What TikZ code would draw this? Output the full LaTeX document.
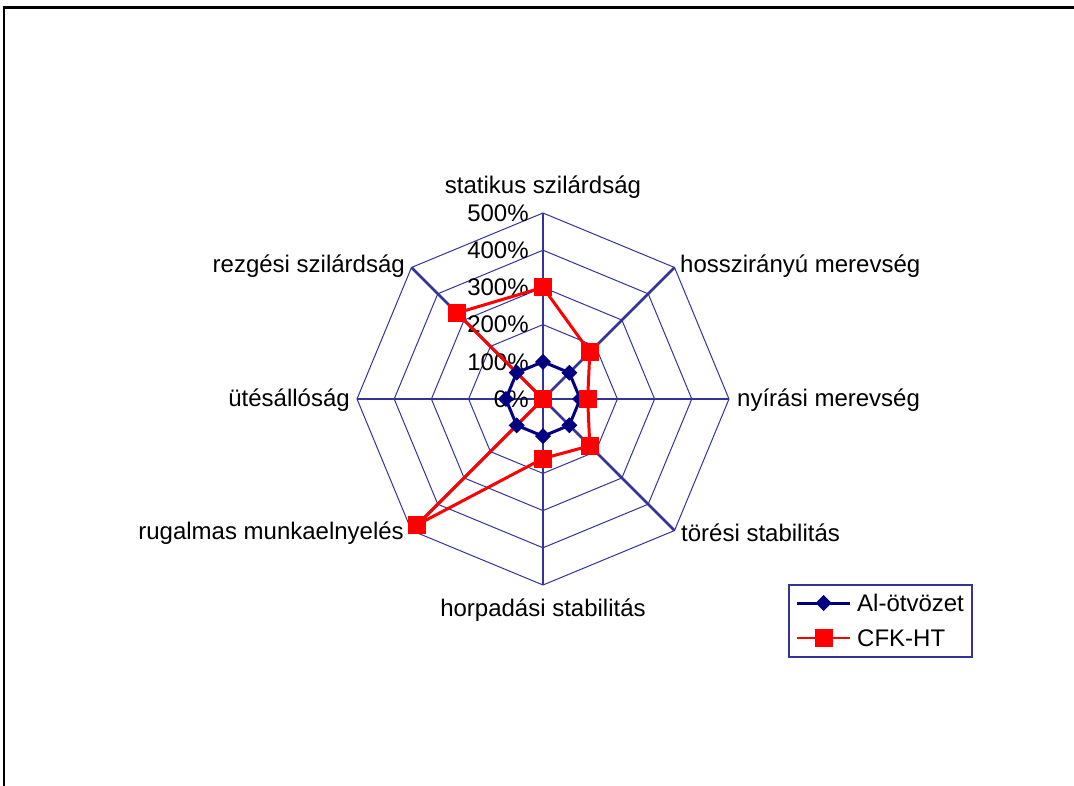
\documentclass[tikz,border=0pt]{standalone}
\usepackage{fontspec}
\setmainfont{Liberation Sans}
\usetikzlibrary{positioning}
\definecolor{gridblue}{HTML}{333399}
\definecolor{alblue}{HTML}{000080}
\definecolor{cfkred}{HTML}{FF0000}

\begin{document}
\begin{tikzpicture}[x=1pt,y=-1pt]
  \tikzset{
    lbl/.style={inner sep=0pt,font=\fontsize{24}{28}\selectfont},
    ring/.style={draw=gridblue,line width=1pt},
    axisline/.style={draw=gridblue,line width=2.6pt},
    alline/.style={draw=alblue,line width=3pt,line join=round},
    cfkline/.style={draw=cfkred,line width=3pt,line join=round},
    legendbox/.style={draw=gridblue,line width=2pt}}
  \useasboundingbox (0,0) rectangle (1074,786);
  \draw[line width=2.5pt] (4,786) -- (4,7.5) -- (1074,7.5);

  \begin{scope}[shift={(543pt,-399pt)},x=37.2pt,y=37.2pt]
    % Netz
    \foreach \r in {1,...,5}
      \draw[ring] (0:\r) \foreach \a in {45,90,...,315}{ -- (\a:\r)} -- cycle;
    \foreach \a in {0,45,...,315}
      \draw[axisline] (0,0) -- (\a:5);

    \foreach \k/\txt in {0/0\%,1/100\%,2/200\%,3/300\%,4/400\%,5/500\%}
      \node[lbl,anchor=east] (pct\k) at (-0.38,\k) {\txt};

    \node[lbl,anchor=center] (statikus) at (0pt,212pt) {statikus szilárdság};
    \node[lbl,anchor=west] (hossz) at (137pt,133pt) {hosszirányú merevség};
    \node[lbl,anchor=west] (nyiras) at (194pt,-1pt) {nyírási merevség};
    \node[lbl,anchor=west] (toresi) at (138pt,-134pt) {törési stabilitás};
    \node[lbl,anchor=center] (horpad) at (0pt,-211pt) {horpadási stabilitás};
    \node[lbl,anchor=east] (rugalmas) at (-139pt,-134pt) {rugalmas munkaelnyelés};
    \node[lbl,anchor=east] (utes) at (-193pt,-1pt) {ütésállóság};
    \node[lbl,anchor=east] (rezges) at (-138pt,133pt) {rezgési szilárdság};

    % Datenreihen
    \foreach \a/\v [count=\i] in {90/1,45/1,0/1,-45/1,-90/1,-135/1,180/1,135/1}
      \coordinate (al\i) at (\a:\v);
    \foreach \a/\v [count=\i] in {90/3,45/1.78,0/1.2,-45/1.78,-90/1.6,-135/4.78,180/0,135/3.27}
      \coordinate (cfk\i) at (\a:\v);

    \draw[alline] (al1) -- (al2) -- (al3) -- (al4) -- (al5) -- (al6) -- (al7) -- (al8) -- cycle;
    \draw[cfkline] (cfk1) -- (cfk2) -- (cfk3) -- (cfk4) -- (cfk5) -- (cfk6) -- (cfk7) -- (cfk8) -- cycle;

    \foreach \i in {1,...,8}
      \fill[alblue] (al\i) +(0,8pt) -- +(8pt,0) -- +(0,-8pt) -- +(-8pt,0) -- cycle;
    \foreach \i in {1,...,8}
      \fill[cfkred] (cfk\i) +(-9pt,-9pt) rectangle +(9pt,9pt);
  \end{scope}

  % Legende
  \draw[legendbox] (789,585) rectangle (972,657);
  \coordinate (legalA) at (797,603);
  \coordinate (legalB) at (850,603);
  \coordinate (legalM) at (823.5,603);
  \draw[alline] (legalA) -- (legalB);
  \fill[alblue] (legalM) +(0,-8) -- +(8,0) -- +(0,8) -- +(-8,0) -- cycle;
  \node[lbl,anchor=west] (legal) at (857,603) {Al-ötvözet};

  \coordinate (legcfkA) at (797,638);
  \coordinate (legcfkB) at (850,638);
  \coordinate (legcfkM) at (823.5,638);
  \draw[cfkline,line width=2.5pt] (legcfkA) -- (legcfkB);
  \fill[cfkred] (legcfkM) +(-9,-9) rectangle +(9,9);
  \node[lbl,anchor=west] (legcfk) at (857,638) {CFK-HT};
\end{tikzpicture}
\end{document}
